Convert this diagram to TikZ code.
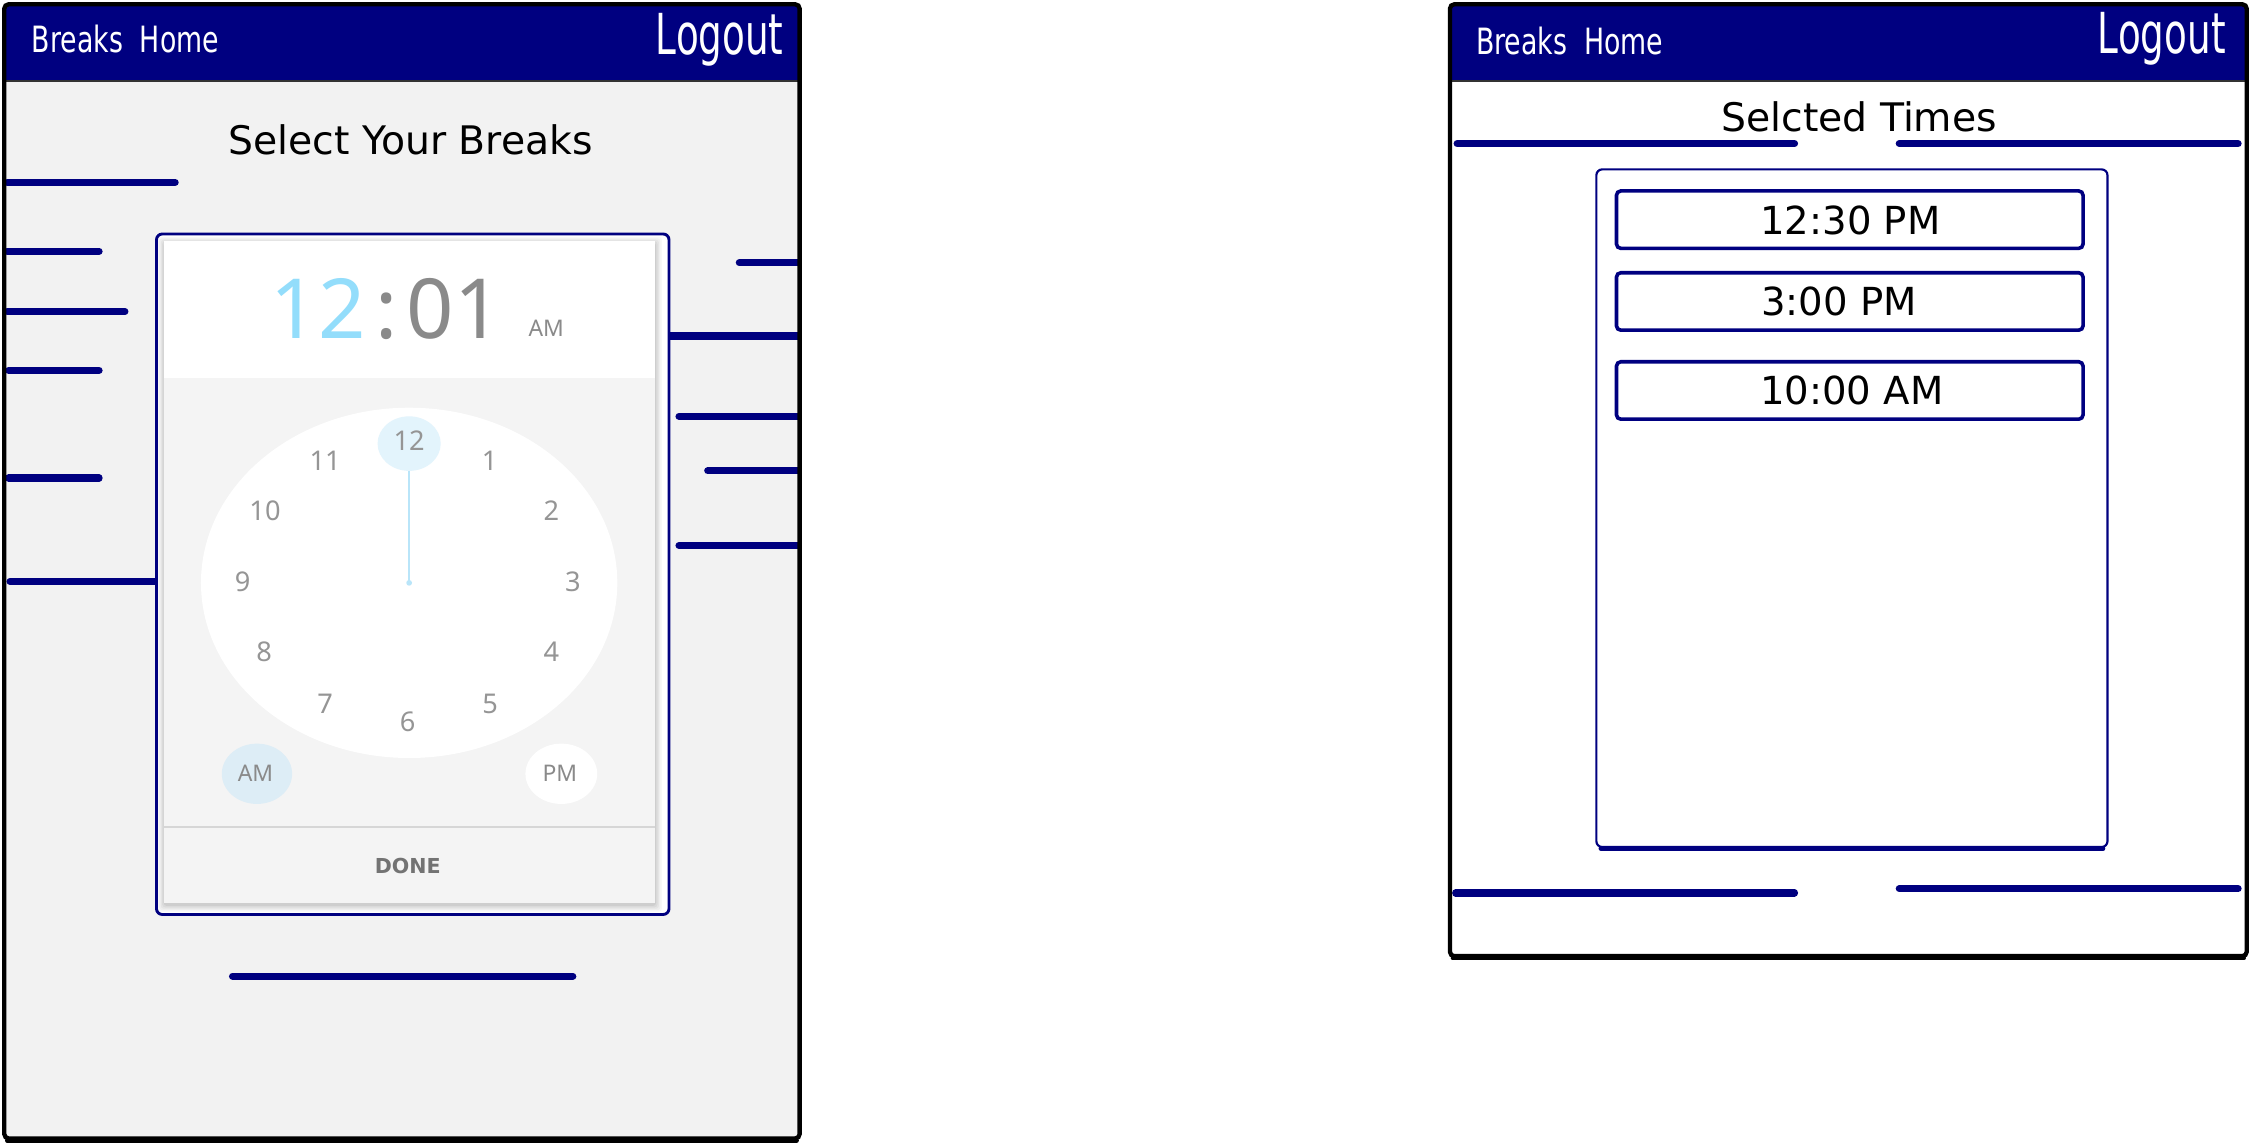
\documentclass[tikz,border=0pt]{standalone}
\usepackage{fontspec}
\usepackage{graphicx}
\setmainfont{DejaVu Sans}
\newfontfamily\clk{Noto Sans}
\definecolor{navy}{HTML}{000080}
\definecolor{bodygray}{HTML}{F2F2F2}
\definecolor{pickgray}{HTML}{F4F4F4}
\definecolor{numgray}{HTML}{959595}
\definecolor{timegray}{HTML}{8A8A8A}
\definecolor{lightblue}{HTML}{93DDFB}
\definecolor{handblue}{HTML}{B9E5F9}
\definecolor{hlblue}{HTML}{E3F4FC}
\definecolor{amblue}{HTML}{DDEDF6}
\definecolor{sepgray}{HTML}{D6D6D6}
\definecolor{donegray}{HTML}{737373}
\begin{document}
\begin{tikzpicture}[x=1bp,y=-1bp,
  navline/.style={draw=navy,line width=5bp,line cap=round},
  frame/.style={draw=black,line width=3bp,rounded corners=3bp},
  hdrtext/.style={text=white,inner sep=0pt},
  titletext/.style={text=black,inner sep=0pt,font=\fontsize{27.5}{30}\selectfont},
  clocknum/.style={text=numgray,inner sep=0pt,font=\clk\fontsize{19}{21}\selectfont},
  timebox/.style={draw=navy,line width=2.5bp,rounded corners=3bp},
  timetext/.style={text=black,inner sep=0pt,font=\fontsize{27}{30}\selectfont}]
\useasboundingbox (0,0) rectangle (1568,796);

% ================= LEFT SCREEN =================
\fill[bodygray] (3,3) rectangle (557,793);
\fill[navy] (3,3) rectangle (557,56);
\draw[black!80,line width=1bp] (3,56.5) -- (557,56.5);
\node[hdrtext,anchor=base west] (lbh) at (22,36.5)
  {\scalebox{0.74}[1]{\fontsize{25.3}{28}\selectfont Breaks\ \ Home}};
\node[hdrtext,anchor=base east] (llo) at (546,38.3)
  {\scalebox{0.66}[1]{\fontsize{39.5}{42}\selectfont Logout}};
\node[titletext,anchor=base] (ltitle) at (286,107.3) {Select Your Breaks};

% side lines
\draw[navline] (5,127) -- (122,127);
\draw[navline] (5,175) -- (69,175);
\draw[navline] (5,217) -- (87,217);
\draw[navline] (6,258) -- (69,258);
\draw[navline] (6,333) -- (69,333);
\draw[navline] (7,405) -- (108,405);
\draw[navline] (515,183) -- (556,183);
\draw[navline] (466,234) -- (556,234);
\draw[navline] (473,290) -- (556,290);
\draw[navline] (493,328) -- (556,328);
\draw[navline] (473,380) -- (556,380);
\draw[navline] (162,680) -- (399,680);

% picker box
\fill[white] (109,163) rectangle (466,637);
% card shadow
\foreach \d/\o in {5/0.03,4/0.035,3/0.04,2/0.045,1/0.05}{
  \fill[black,opacity=\o,rounded corners=2bp] (114-\d+1,168-\d+2) rectangle (456+\d,630+\d);
}
\fill[pickgray] (114,168) rectangle (456,629);
\fill[white] (114,168) rectangle (456,263);
\draw[sepgray,line width=1bp] (114,576) -- (456,576);
\draw[navy,line width=2bp,rounded corners=4bp] (109,163) rectangle (466,637);

% digital time
\node[inner sep=0pt,anchor=base east,text=lightblue,font=\clk\fontsize{58}{60}\selectfont] (t12) at (255,236) {12};
\node[inner sep=0pt,anchor=base,text=timegray,font=\clk\fontsize{58}{60}\selectfont] (tcol) at (269,236) {:};
\node[inner sep=0pt,anchor=base west,text=timegray,font=\clk\fontsize{58}{60}\selectfont] (t01) at (283,236) {01};
\node[inner sep=0pt,anchor=base west,text=timegray,font=\clk\fontsize{16}{18}\selectfont] (tam) at (368,234.5) {AM};

% clock face
\fill[white] (285,406) ellipse [x radius=145, y radius=122];
\fill[hlblue] (285,309) ellipse [x radius=22, y radius=19];
\coordinate (hcenter) at (285,406);
\coordinate (htop) at (285,328);
\draw[handblue,line width=1.5bp] (htop) -- (hcenter);
\fill[handblue] (hcenter) circle [radius=2];
\foreach \n/\x/\y in {12/285/307,1/341/321,2/384/356,3/399/405,4/384/454,5/341.5/490,
  6/284/503,7/226.5/490,8/184/454,9/169/405,10/184.6/356,11/226.5/321}{
  \node[clocknum] (num\n) at (\x,\y) {\n};
}
\fill[amblue] (179,539) ellipse [x radius=24.5, y radius=21];
\fill[white] (391,539) ellipse [x radius=25, y radius=21];
\node[inner sep=0pt,text=timegray,font=\clk\fontsize{16}{18}\selectfont] (bam) at (178,539) {AM};
\node[inner sep=0pt,text=timegray,font=\clk\fontsize{16}{18}\selectfont] (bpm) at (390,539) {PM};
\node[inner sep=0pt,text=donegray,font=\bfseries\fontsize{14.4}{16}\selectfont] (done) at (284,603) {DONE};

\draw[frame] (3,3) rectangle (557,793);
\draw[black,line width=3bp,line cap=round] (5,794.5) -- (555,794.5);

% ================= RIGHT SCREEN =================
\fill[white] (1010,3) rectangle (1565,666);
\fill[navy] (1010,3) rectangle (1565,56);
\draw[black!80,line width=1bp] (1010,56.5) -- (1565,56.5);
\node[hdrtext,anchor=base west] (rbh) at (1028,38.3)
  {\scalebox{0.74}[1]{\fontsize{25.3}{28}\selectfont Breaks\ \ Home}};
\node[hdrtext,anchor=base east] (rlo) at (1550.5,37.6)
  {\scalebox{0.66}[1]{\fontsize{39.5}{42}\selectfont Logout}};
\node[titletext,anchor=base,font=\fontsize{27.5}{30}\selectfont] (rtitle) at (1295,91.7) {Selcted Times};

\draw[navline] (1015,100) -- (1250,100);
\draw[navline] (1323,100) -- (1559,100);
\draw[navline] (1014,622) -- (1250,622);
\draw[navline] (1323,619) -- (1559,619);

\draw[navy,line width=1.5bp,rounded corners=4bp] (1112,118) rectangle (1468,590);
\draw[navy,line width=3bp,line cap=round] (1115,591) -- (1465,591);

\draw[timebox] (1126,133) rectangle (1451,173);
\draw[timebox] (1126,190) rectangle (1451,230);
\draw[timebox] (1126,252) rectangle (1451,292);
\node[timetext,anchor=base] (time1) at (1289,163.5) {12:30 PM};
\node[timetext,anchor=base] (time2) at (1281,219.5) {3:00 PM};
\node[timetext,anchor=base] (time3) at (1290,281.5) {10:00 AM};

\draw[frame] (1010,3) rectangle (1565,666);
\draw[black,line width=3bp,line cap=round] (1012,667.5) -- (1563,667.5);
\end{tikzpicture}
\end{document}
